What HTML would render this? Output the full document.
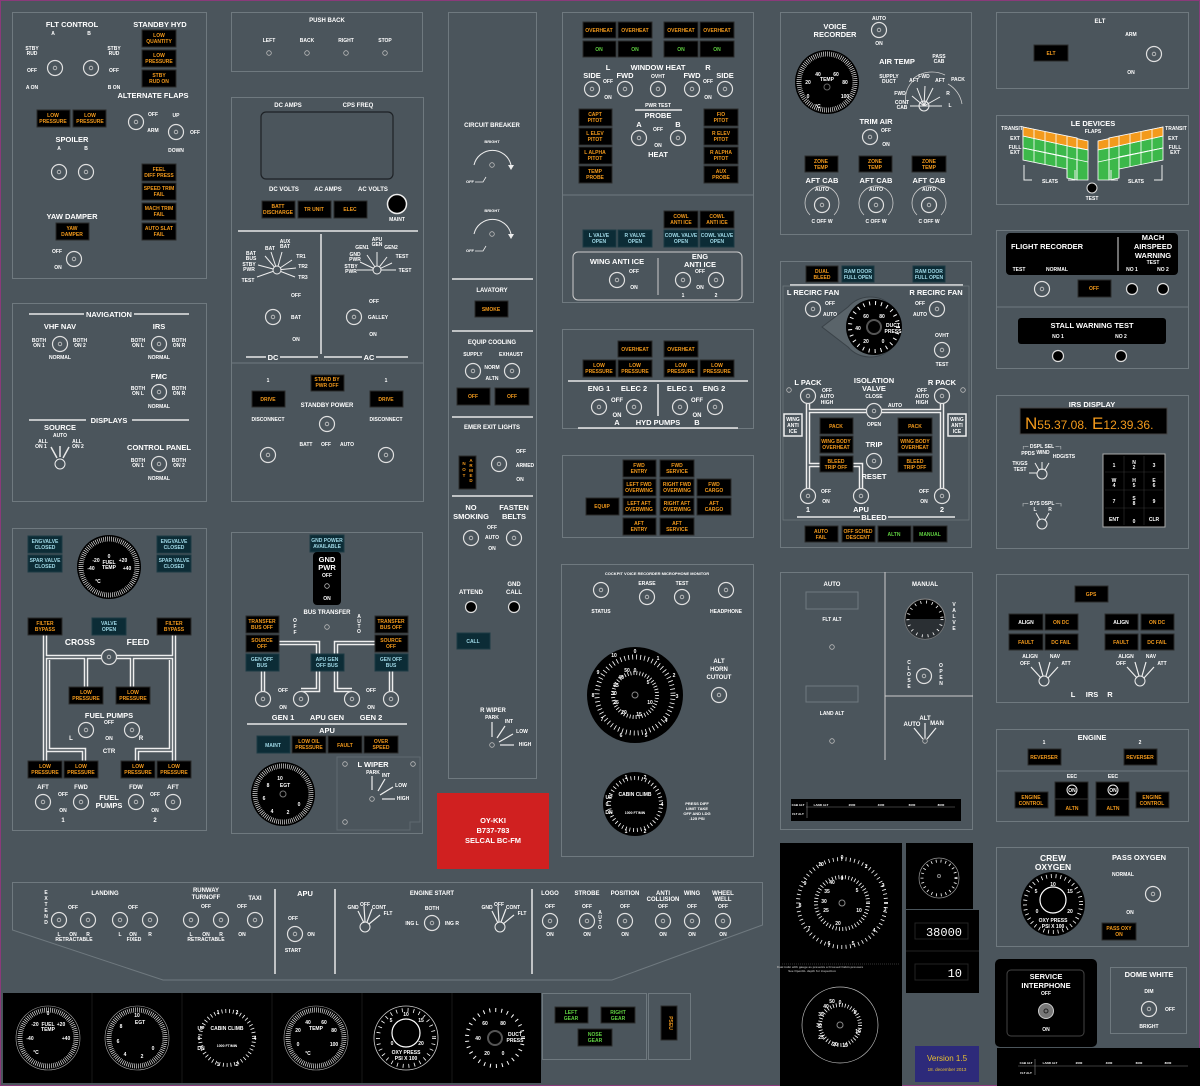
<!DOCTYPE html>
<html><head><meta charset="utf-8"><style>
html,body{margin:0;padding:0;background:#4b555c;}
svg{display:block}
text{font-family:"Liberation Sans",sans-serif;font-weight:bold;text-anchor:middle;}
.p{fill:none;stroke:#6f797f;stroke-width:1}
.a{fill:#000;stroke:#2a2a2a;stroke-width:1}
.at{fill:#0c2c36;stroke:#1c3a44;stroke-width:1}
.o{fill:#f39a1c;font-size:5px}
.g{fill:#5fd040;font-size:5px}
.c{fill:#9fd8e6;font-size:5px}
.w{fill:#fff;font-size:5px}
.s{fill:#fff;font-size:6px}
.m{fill:#fff;font-size:7.5px}
.h{fill:#fff;font-size:8.5px}
.ln{stroke:#e8e8e8;stroke-width:1.5;fill:none}
.pipe{stroke:#eee;stroke-width:4.5;fill:none}
.pipei{stroke:#4b555c;stroke-width:1.5;fill:none}
.blk{fill:#000}
.tk{fill:none;stroke:#fff}
</style></head><body>
<svg width="1200" height="1086" viewBox="0 0 1200 1086" xmlns="http://www.w3.org/2000/svg">
<defs>
<g id="k"><circle r="7.5" fill="#4b555c" stroke="#e0e0e0" stroke-width="1.2"/><circle r="1.8" fill="none" stroke="#ccc" stroke-width="0.8"/></g>
<g id="kb"><circle r="5.5" fill="#000" stroke="#ddd" stroke-width="1.2"/></g>
<g id="dt"><circle r="2.3" fill="none" stroke="#bbb" stroke-width="0.8"/></g>
<g id="rs"><circle r="5" fill="none" stroke="#eee" stroke-width="1"/></g>
</defs>
<rect x="0" y="0" width="1200" height="1086" fill="#4b555c"/>
<rect x="0.5" y="0.5" width="1199" height="1085" fill="none" stroke="#8a3a7a" stroke-width="1"/>

<!-- ===== FLT CONTROL ===== -->
<rect class="p" x="12.5" y="12.5" width="194" height="266"/>
<text class="m" x="72" y="27">FLT CONTROL</text>
<text class="m" x="160" y="27">STANDBY HYD</text>
<text class="w" x="53" y="35">A</text><text class="w" x="89" y="35">B</text>
<text class="w" x="32" y="50">STBY</text><text class="w" x="32" y="55">RUD</text>
<text class="w" x="114" y="50">STBY</text><text class="w" x="114" y="55">RUD</text>
<text class="w" x="32" y="72">OFF</text><text class="w" x="114" y="72">OFF</text>
<text class="w" x="32" y="89">A ON</text><text class="w" x="114" y="89">B ON</text>
<use href="#k" x="55" y="68"/><use href="#k" x="91" y="68"/>
<rect class="a" x="142" y="30" width="34" height="17"/><text class="o" x="159" y="37">LOW</text><text class="o" x="159" y="43">QUANTITY</text>
<rect class="a" x="142" y="50" width="34" height="17"/><text class="o" x="159" y="57">LOW</text><text class="o" x="159" y="63">PRESSURE</text>
<rect class="a" x="142" y="70" width="34" height="17"/><text class="o" x="159" y="77">STBY</text><text class="o" x="159" y="83">RUD ON</text>
<text class="m" x="153" y="98">ALTERNATE FLAPS</text>
<rect class="a" x="37" y="110" width="33" height="17"/><text class="o" x="53" y="117">LOW</text><text class="o" x="53" y="123">PRESSURE</text>
<rect class="a" x="73" y="110" width="33" height="17"/><text class="o" x="90" y="117">LOW</text><text class="o" x="90" y="123">PRESSURE</text>
<use href="#k" x="136" y="122"/><use href="#k" x="176" y="132"/>
<text class="w" x="153" y="116">OFF</text><text class="w" x="153" y="132">ARM</text>
<text class="w" x="176" y="117">UP</text><text class="w" x="195" y="134">OFF</text><text class="w" x="176" y="152">DOWN</text>
<text class="m" x="72" y="142">SPOILER</text>
<text class="w" x="59" y="150">A</text><text class="w" x="86" y="150">B</text>
<use href="#k" x="59" y="172"/><use href="#k" x="86" y="172"/>
<rect class="a" x="142" y="164" width="34" height="17"/><text class="o" x="159" y="171">FEEL</text><text class="o" x="159" y="177">DIFF PRESS</text>
<rect class="a" x="142" y="183" width="34" height="17"/><text class="o" x="159" y="190">SPEED TRIM</text><text class="o" x="159" y="196">FAIL</text>
<rect class="a" x="142" y="203" width="34" height="17"/><text class="o" x="159" y="210">MACH TRIM</text><text class="o" x="159" y="216">FAIL</text>
<rect class="a" x="142" y="223" width="34" height="17"/><text class="o" x="159" y="230">AUTO SLAT</text><text class="o" x="159" y="236">FAIL</text>
<text class="m" x="72" y="219">YAW DAMPER</text>
<rect class="a" x="56" y="223" width="33" height="17"/><text class="o" x="72" y="230">YAW</text><text class="o" x="72" y="236">DAMPER</text>
<text class="w" x="57" y="253">OFF</text><text class="w" x="58" y="269">ON</text>
<use href="#k" x="74" y="259"/>

<!-- ===== NAVIGATION ===== -->
<rect class="p" x="12.5" y="303.5" width="194" height="198"/>
<line class="ln" x1="29" y1="314" x2="84" y2="314"/><line class="ln" x1="134" y1="314" x2="189" y2="314"/>
<text class="m" x="109" y="317">NAVIGATION</text>
<text class="m" x="60" y="329">VHF NAV</text><text class="m" x="159" y="329">IRS</text>
<text class="w" x="39" y="342">BOTH</text><text class="w" x="39" y="347">ON 1</text><text class="w" x="80" y="342">BOTH</text><text class="w" x="80" y="347">ON 2</text>
<use href="#k" x="60" y="344"/><text class="w" x="60" y="359">NORMAL</text>
<text class="w" x="138" y="342">BOTH</text><text class="w" x="138" y="347">ON L</text><text class="w" x="179" y="342">BOTH</text><text class="w" x="179" y="347">ON R</text>
<use href="#k" x="159" y="344"/><text class="w" x="159" y="359">NORMAL</text>
<text class="m" x="159" y="379">FMC</text>
<text class="w" x="138" y="390">BOTH</text><text class="w" x="138" y="395">ON L</text><text class="w" x="179" y="390">BOTH</text><text class="w" x="179" y="395">ON R</text>
<use href="#k" x="159" y="392"/><text class="w" x="159" y="408">NORMAL</text>
<line class="ln" x1="29" y1="420" x2="86" y2="420"/><line class="ln" x1="132" y1="420" x2="189" y2="420"/>
<text class="m" x="109" y="423">DISPLAYS</text>
<text class="m" x="60" y="430">SOURCE</text><text class="w" x="60" y="437">AUTO</text>
<text class="w" x="43" y="443">ALL</text><text class="w" x="41" y="448">ON 1</text><text class="w" x="77" y="443">ALL</text><text class="w" x="78" y="448">ON 2</text>
<line class="ln" x1="60" y1="446" x2="60" y2="457" stroke-width="1"/><line class="ln" x1="51" y1="447" x2="57" y2="458" stroke-width="1"/><line class="ln" x1="69" y1="447" x2="63" y2="458" stroke-width="1"/>
<use href="#rs" x="60" y="464"/>
<text class="m" x="159" y="450">CONTROL PANEL</text>
<text class="w" x="138" y="462">BOTH</text><text class="w" x="138" y="467">ON 1</text><text class="w" x="179" y="462">BOTH</text><text class="w" x="179" y="467">ON 2</text>
<use href="#k" x="159" y="464"/><text class="w" x="159" y="480">NORMAL</text>

<!-- ===== FUEL ===== -->
<rect class="p" x="12.5" y="528.5" width="194" height="302"/>
<rect class="at" x="28" y="536" width="34" height="17"/><text class="c" x="45" y="543">ENGVALVE</text><text class="c" x="45" y="549">CLOSED</text>
<rect class="at" x="28" y="555" width="34" height="17"/><text class="c" x="45" y="562">SPAR VALVE</text><text class="c" x="45" y="568">CLOSED</text>
<rect class="at" x="157" y="536" width="34" height="17"/><text class="c" x="174" y="543">ENGVALVE</text><text class="c" x="174" y="549">CLOSED</text>
<rect class="at" x="157" y="555" width="34" height="17"/><text class="c" x="174" y="562">SPAR VALVE</text><text class="c" x="174" y="568">CLOSED</text>
<circle cx="109" cy="567" r="32" class="blk"/>
<circle cx="109" cy="567" r="28" class="tk" stroke-width="5" stroke-dasharray="0.6 1.4"/>
<text class="w" x="109" y="558">0</text><text class="w" x="109" y="564">FUEL</text><text class="w" x="109" y="569">TEMP</text>
<text class="w" x="96" y="562">-20</text><text class="w" x="123" y="562">+20</text><text class="w" x="91" y="570">-40</text><text class="w" x="127" y="570">+40</text><text class="w" x="98" y="583">°C</text>
<!-- pipes -->
<path class="pipe" d="M45 635 V762 M174 635 V762 M45 657 H174 M86 657 V687 M132 657 V687 M48 660 V750 H84 V762 M171 660 V750 H137 V762"/>
<path class="pipei" d="M45 635 V762 M174 635 V762 M45 657 H174 M86 657 V687 M132 657 V687 M48 660 V750 H84 V762 M171 660 V750 H137 V762"/>
<rect class="a" x="28" y="618" width="34" height="17"/><text class="o" x="45" y="625">FILTER</text><text class="o" x="45" y="631">BYPASS</text>
<rect class="at" x="92" y="618" width="34" height="17"/><text class="c" x="109" y="625">VALVE</text><text class="c" x="109" y="631">OPEN</text>
<rect class="a" x="157" y="618" width="34" height="17"/><text class="o" x="174" y="625">FILTER</text><text class="o" x="174" y="631">BYPASS</text>
<text class="h" x="80" y="645">CROSS</text><text class="h" x="138" y="645">FEED</text>
<use href="#k" x="109" y="657"/>
<rect class="a" x="69" y="687" width="34" height="17"/><text class="o" x="86" y="694">LOW</text><text class="o" x="86" y="700">PRESSURE</text>
<rect class="a" x="116" y="687" width="34" height="17"/><text class="o" x="133" y="694">LOW</text><text class="o" x="133" y="700">PRESSURE</text>
<text class="m" x="109" y="718">FUEL PUMPS</text><text class="w" x="109" y="724">OFF</text>
<use href="#k" x="86" y="730"/><use href="#k" x="132" y="730"/>
<text class="s" x="71" y="740">L</text><text class="s" x="141" y="740">R</text><text class="w" x="109" y="740">ON</text><text class="s" x="109" y="753">CTR</text>
<rect class="a" x="28" y="761" width="34" height="17"/><text class="o" x="45" y="768">LOW</text><text class="o" x="45" y="774">PRESSURE</text>
<rect class="a" x="64" y="761" width="34" height="17"/><text class="o" x="81" y="768">LOW</text><text class="o" x="81" y="774">PRESSURE</text>
<rect class="a" x="121" y="761" width="34" height="17"/><text class="o" x="138" y="768">LOW</text><text class="o" x="138" y="774">PRESSURE</text>
<rect class="a" x="157" y="761" width="34" height="17"/><text class="o" x="174" y="768">LOW</text><text class="o" x="174" y="774">PRESSURE</text>
<text class="s" x="43" y="789">AFT</text><text class="s" x="81" y="789">FWD</text><text class="s" x="136" y="789">FDW</text><text class="s" x="173" y="789">AFT</text>
<use href="#k" x="43" y="802"/><use href="#k" x="81" y="802"/><use href="#k" x="136" y="802"/><use href="#k" x="173" y="802"/>
<text class="w" x="63" y="796">OFF</text><text class="w" x="63" y="812">ON</text><text class="w" x="155" y="796">OFF</text><text class="w" x="155" y="812">ON</text>
<text class="s" x="63" y="822">1</text><text class="s" x="155" y="822">2</text>
<text class="m" x="109" y="800">FUEL</text><text class="m" x="109" y="808">PUMPS</text>

<!-- ===== PUSH BACK ===== -->
<rect class="p" x="231.5" y="12.5" width="191" height="59"/>
<text class="s" x="327" y="22">PUSH BACK</text>
<text class="w" x="269" y="42">LEFT</text><text class="w" x="307" y="42">BACK</text><text class="w" x="346" y="42">RIGHT</text><text class="w" x="385" y="42">STOP</text>
<use href="#dt" x="269" y="53"/><use href="#dt" x="307" y="53"/><use href="#dt" x="346" y="53"/><use href="#dt" x="385" y="53"/>

<!-- ===== DC / AC ===== -->
<rect class="p" x="231.5" y="97.5" width="192" height="404"/>
<line x1="231" y1="363" x2="423" y2="363" stroke="#6f797f"/>
<text class="s" x="288" y="107">DC AMPS</text><text class="s" x="358" y="107">CPS FREQ</text>
<rect x="261" y="112" width="132" height="67" rx="5" fill="#4b555c" stroke="#1e2226" stroke-width="1.2"/>
<text class="s" x="284" y="191">DC VOLTS</text><text class="s" x="328" y="191">AC AMPS</text><text class="s" x="373" y="191">AC VOLTS</text>
<rect class="a" x="262" y="201" width="33" height="17"/><text class="o" x="278" y="208">BATT</text><text class="o" x="278" y="214">DISCHARGE</text>
<rect class="a" x="298" y="201" width="33" height="17"/><text class="o" x="314" y="211">TR UNIT</text>
<rect class="a" x="334" y="201" width="33" height="17"/><text class="o" x="350" y="211">ELEC</text>
<circle cx="397" cy="204" r="9.5" fill="#000" stroke="#eee" stroke-width="1.5"/><text class="w" x="397" y="221">MAINT</text>
<line class="ln" x1="238" y1="231" x2="418" y2="231"/>
<line class="ln" x1="321" y1="234" x2="321" y2="354"/>
<g stroke="#eee" stroke-width="1">
<line x1="277" y1="270" x2="257" y2="277"/><line x1="277" y1="270" x2="258" y2="265"/><line x1="277" y1="270" x2="265" y2="256"/><line x1="277" y1="270" x2="271" y2="252"/><line x1="277" y1="270" x2="282" y2="252"/><line x1="277" y1="270" x2="292" y2="260"/><line x1="277" y1="270" x2="296" y2="268"/><line x1="277" y1="270" x2="295" y2="277"/>
<line x1="377" y1="270" x2="357" y2="270"/><line x1="377" y1="270" x2="360" y2="262"/><line x1="377" y1="270" x2="367" y2="255"/><line x1="377" y1="270" x2="377" y2="252"/><line x1="377" y1="270" x2="387" y2="257"/><line x1="377" y1="270" x2="392" y2="263"/><line x1="377" y1="270" x2="396" y2="270"/>
</g>
<circle cx="277" cy="270" r="4" fill="#4b555c" stroke="#eee"/><circle cx="377" cy="270" r="4" fill="#4b555c" stroke="#eee"/>
<text class="w" x="251" y="255">BAT</text><text class="w" x="251" y="260">BUS</text><text class="w" x="270" y="250">BAT</text><text class="w" x="285" y="243">AUX</text><text class="w" x="285" y="248">BAT</text><text class="w" x="301" y="258">TR1</text><text class="w" x="303" y="268">TR2</text><text class="w" x="303" y="279">TR3</text><text class="w" x="249" y="266">STBY</text><text class="w" x="249" y="271">PWR</text><text class="w" x="248" y="282">TEST</text>
<text class="w" x="355" y="256">GND</text><text class="w" x="355" y="261">PWR</text><text class="w" x="362" y="249">GEN1</text><text class="w" x="377" y="241">APU</text><text class="w" x="377" y="246">GEN</text><text class="w" x="391" y="249">GEN2</text><text class="w" x="402" y="258">TEST</text><text class="w" x="405" y="272">TEST</text><text class="w" x="351" y="268">STBY</text><text class="w" x="351" y="273">PWR</text>
<text class="w" x="296" y="297">OFF</text><use href="#k" x="273" y="317"/><text class="w" x="296" y="319">BAT</text><text class="w" x="296" y="341">ON</text>
<text class="w" x="374" y="303">OFF</text><use href="#k" x="354" y="317"/><text class="w" x="378" y="319">GALLEY</text><text class="w" x="373" y="336">ON</text>
<line class="ln" x1="246" y1="357" x2="266" y2="357" stroke-width="1"/><line class="ln" x1="280" y1="357" x2="318" y2="357" stroke-width="1"/>
<line class="ln" x1="324" y1="357" x2="362" y2="357" stroke-width="1"/><line class="ln" x1="376" y1="357" x2="408" y2="357" stroke-width="1"/>
<text class="m" x="273" y="360">DC</text><text class="m" x="369" y="360">AC</text>
<text class="w" x="268" y="382">1</text><text class="w" x="386" y="382">1</text>
<rect class="a" x="311" y="375" width="33" height="16"/><text class="o" x="327" y="381">STAND BY</text><text class="o" x="327" y="387">PWR OFF</text>
<rect class="a" x="252" y="391" width="33" height="16"/><text class="o" x="268" y="401">DRIVE</text>
<rect class="a" x="370" y="391" width="33" height="16"/><text class="o" x="386" y="401">DRIVE</text>
<text class="s" x="327" y="407">STANDBY POWER</text>
<text class="w" x="268" y="421">DISCONNECT</text><text class="w" x="386" y="421">DISCONNECT</text>
<use href="#k" x="327" y="424"/>
<text class="w" x="306" y="446">BATT</text><text class="w" x="326" y="446">OFF</text><text class="w" x="347" y="446">AUTO</text>
<use href="#k" x="268" y="455"/><use href="#k" x="386" y="455"/>

<!-- ===== GND PWR ===== -->
<rect class="p" x="231.5" y="532.5" width="191" height="301"/>
<rect class="at" x="310" y="535" width="34" height="17"/><text class="c" x="327" y="542">GND POWER</text><text class="c" x="327" y="548">AVAILABLE</text>
<rect x="313" y="552" width="28" height="53" rx="4" fill="#000"/>
<text class="m" x="327" y="562">GND</text><text class="m" x="327" y="570">PWR</text><text class="w" x="327" y="577">OFF</text><use href="#dt" x="327" y="586"/><text class="w" x="327" y="600">ON</text>
<text class="s" x="327" y="614">BUS TRANSFER</text>
<text class="w" x="295" y="622">O</text><text class="w" x="295" y="628">F</text><text class="w" x="295" y="634">F</text>
<text class="w" x="359" y="618">A</text><text class="w" x="359" y="623">U</text><text class="w" x="359" y="628">T</text><text class="w" x="359" y="633">O</text>
<use href="#dt" x="327" y="627"/>
<path class="pipe" d="M263 671 V699 M391 671 V699 M279 643 H318 V690 H301 M375 643 H336 V690 H352"/>
<path class="pipei" d="M263 671 V699 M391 671 V699 M279 643 H318 V690 H301 M375 643 H336 V690 H352"/>
<rect class="a" x="246" y="616" width="33" height="17"/><text class="o" x="262" y="623">TRANSFER</text><text class="o" x="262" y="629">BUS OFF</text>
<rect class="a" x="246" y="635" width="33" height="17"/><text class="o" x="262" y="642">SOURCE</text><text class="o" x="262" y="648">OFF</text>
<rect class="at" x="246" y="654" width="33" height="17"/><text class="c" x="262" y="661">GEN OFF</text><text class="c" x="262" y="667">BUS</text>
<rect class="a" x="375" y="616" width="33" height="17"/><text class="o" x="391" y="623">TRANSFER</text><text class="o" x="391" y="629">BUS OFF</text>
<rect class="a" x="375" y="635" width="33" height="17"/><text class="o" x="391" y="642">SOURCE</text><text class="o" x="391" y="648">OFF</text>
<rect class="at" x="375" y="654" width="33" height="17"/><text class="c" x="391" y="661">GEN OFF</text><text class="c" x="391" y="667">BUS</text>
<rect class="at" x="311" y="654" width="33" height="17"/><text class="c" x="327" y="661">APU GEN</text><text class="c" x="327" y="667">OFF BUS</text>
<use href="#k" x="263" y="699"/><use href="#k" x="301" y="699"/><use href="#k" x="352" y="699"/><use href="#k" x="391" y="699"/>
<text class="w" x="283" y="692">OFF</text><text class="w" x="283" y="709">ON</text><text class="w" x="371" y="692">OFF</text><text class="w" x="371" y="709">ON</text>
<text class="m" x="283" y="720">GEN 1</text><text class="m" x="327" y="720">APU GEN</text><text class="m" x="371" y="720">GEN 2</text>
<line class="ln" x1="247" y1="724" x2="407" y2="724"/>
<text class="m" x="327" y="733">APU</text>
<rect class="at" x="257" y="736" width="33" height="17"/><text class="c" x="273" y="747">MAINT</text>
<rect class="a" x="292" y="736" width="34" height="17"/><text class="o" x="309" y="743">LOW OIL</text><text class="o" x="309" y="749">PRESSURE</text>
<rect class="a" x="328" y="736" width="34" height="17"/><text class="o" x="345" y="747">FAULT</text>
<rect class="a" x="364" y="736" width="34" height="17"/><text class="o" x="381" y="743">OVER</text><text class="o" x="381" y="749">SPEED</text>
<circle cx="283" cy="794" r="32" class="blk"/>
<circle cx="283" cy="794" r="28" class="tk" stroke-width="5" stroke-dasharray="0.6 1.4"/>
<text class="w" x="280" y="780">10</text><text class="w" x="285" y="787">EGT</text><text class="w" x="268" y="787">8</text><text class="w" x="264" y="800">6</text><text class="w" x="272" y="813">4</text><text class="w" x="288" y="814">2</text><text class="w" x="299" y="806">0</text>
<circle cx="283" cy="794" r="3" fill="none" stroke="#777"/>
<path d="M337 757 H420 V822 H410 V830 H337 Z" fill="none" stroke="#5f696f"/>
<text class="m" x="373" y="767">L WIPER</text>
<text class="w" x="373" y="774">PARK</text><text class="w" x="386" y="777">INT</text><text class="w" x="401" y="787">LOW</text><text class="w" x="403" y="800">HIGH</text>
<g stroke="#eee" stroke-width="1.2"><line x1="372" y1="776" x2="372" y2="790"/><line x1="378" y1="791" x2="385" y2="779"/><line x1="380" y1="795" x2="393" y2="787"/><line x1="382" y1="799" x2="395" y2="799"/></g>
<use href="#dt" x="372" y="799"/><use href="#dt" x="345" y="764"/><use href="#dt" x="413" y="764"/><use href="#dt" x="345" y="822"/>

<!-- ===== CIRCUIT BREAKER COLUMN ===== -->
<rect class="p" x="448.5" y="12.5" width="88" height="766"/>
<text class="s" x="492" y="127">CIRCUIT BREAKER</text>
<path d="M474 165 A19 19 0 0 1 511 165" fill="none" stroke="#eee"/><path d="M508 165 l3 5 l3 -5z" fill="#eee"/>
<text class="w" x="492" y="143" style="font-size:4px">BRIGHT</text><use href="#dt" x="492" y="165"/>
<text class="w" x="470" y="183" style="font-size:4px">OFF</text><path d="M475 182 H483 L486 177" fill="none" stroke="#eee" stroke-width="0.8"/>
<path d="M474 234 A19 19 0 0 1 511 234" fill="none" stroke="#eee"/><path d="M508 234 l3 5 l3 -5z" fill="#eee"/>
<text class="w" x="492" y="212" style="font-size:4px">BRIGHT</text><use href="#dt" x="492" y="234"/>
<text class="w" x="470" y="252" style="font-size:4px">OFF</text><path d="M475 251 H483 L486 246" fill="none" stroke="#eee" stroke-width="0.8"/>
<line class="ln" x1="452" y1="279" x2="533" y2="279"/>
<text class="s" x="492" y="292">LAVATORY</text>
<rect class="a" x="475" y="301" width="33" height="16"/><text class="o" x="491" y="311">SMOKE</text>
<line class="ln" x1="452" y1="331" x2="533" y2="331"/>
<text class="s" x="492" y="344">EQUIP COOLING</text>
<text class="w" x="473" y="356">SUPPLY</text><text class="w" x="511" y="356">EXHAUST</text>
<use href="#k" x="473" y="371"/><use href="#k" x="512" y="371"/>
<text class="w" x="492" y="369">NORM</text><text class="w" x="492" y="380">ALTN</text>
<rect class="a" x="457" y="388" width="33" height="17"/><text class="o" x="473" y="398">OFF</text>
<rect class="a" x="495" y="388" width="34" height="17"/><text class="o" x="512" y="398">OFF</text>
<line class="ln" x1="452" y1="417" x2="533" y2="417"/>
<text class="s" x="492" y="429">EMER EXIT LIGHTS</text>
<rect class="a" x="459" y="456" width="17" height="33"/>
<text class="o" x="464" y="465" style="font-size:4.5px">N</text><text class="o" x="464" y="471" style="font-size:4.5px">O</text><text class="o" x="464" y="477" style="font-size:4.5px">T</text>
<text class="o" x="471" y="462" style="font-size:4.5px">A</text><text class="o" x="471" y="467" style="font-size:4.5px">R</text><text class="o" x="471" y="472" style="font-size:4.5px">M</text><text class="o" x="471" y="477" style="font-size:4.5px">E</text><text class="o" x="471" y="482" style="font-size:4.5px">D</text>
<use href="#k" x="499" y="464"/>
<text class="w" x="521" y="453">OFF</text><text class="w" x="525" y="467">ARMED</text><text class="w" x="520" y="481">ON</text>
<line class="ln" x1="452" y1="496" x2="533" y2="496"/>
<text class="m" x="471" y="510">NO</text><text class="m" x="471" y="519">SMOKING</text>
<text class="m" x="514" y="510">FASTEN</text><text class="m" x="514" y="519">BELTS</text>
<text class="w" x="492" y="529">OFF</text><text class="w" x="492" y="539">AUTO</text><text class="w" x="492" y="550">ON</text>
<use href="#k" x="471" y="538"/><use href="#k" x="514" y="538"/>
<text class="s" x="471" y="594">ATTEND</text><text class="s" x="514" y="586">GND</text><text class="s" x="514" y="594">CALL</text>
<use href="#kb" x="471" y="607"/><use href="#kb" x="514" y="607"/>
<rect class="at" x="457" y="633" width="33" height="16"/><text class="c" x="473" y="643">CALL</text>
<text class="s" x="493" y="712">R WIPER</text>
<text class="w" x="492" y="719">PARK</text><text class="w" x="509" y="723">INT</text><text class="w" x="522" y="733">LOW</text><text class="w" x="525" y="746">HIGH</text>
<g stroke="#eee" stroke-width="1.2"><line x1="492" y1="722" x2="492" y2="737"/><line x1="497" y1="738" x2="505" y2="726"/><line x1="499" y1="742" x2="513" y2="734"/><line x1="500" y1="745" x2="514" y2="745"/></g>
<use href="#dt" x="492" y="745"/>

<!-- ===== RED BOX ===== -->
<rect x="437" y="793" width="112" height="76" fill="#d02020"/>
<text class="m" x="493" y="823" style="fill:#fff">OY-KKI</text>
<text class="m" x="493" y="833">B737-783</text>
<text class="m" x="493" y="843">SELCAL BC-FM</text>

<!-- ===== WINDOW HEAT ===== -->
<rect class="p" x="562.5" y="12.5" width="191" height="290"/>
<line x1="562" y1="195" x2="754" y2="195" stroke="#6f797f"/>
<g>
<rect class="a" x="583" y="22" width="33" height="16"/><text class="o" x="599" y="32">OVERHEAT</text>
<rect class="a" x="618" y="22" width="34" height="16"/><text class="o" x="635" y="32">OVERHEAT</text>
<rect class="a" x="664" y="22" width="34" height="16"/><text class="o" x="681" y="32">OVERHEAT</text>
<rect class="a" x="700" y="22" width="34" height="16"/><text class="o" x="717" y="32">OVERHEAT</text>
<rect class="a" x="583" y="41" width="33" height="16"/><text class="g" x="599" y="51">ON</text>
<rect class="a" x="618" y="41" width="34" height="16"/><text class="g" x="635" y="51">ON</text>
<rect class="a" x="664" y="41" width="34" height="16"/><text class="g" x="681" y="51">ON</text>
<rect class="a" x="700" y="41" width="34" height="16"/><text class="g" x="717" y="51">ON</text>
</g>
<text class="m" x="608" y="70">L</text><text class="m" x="658" y="70">WINDOW HEAT</text><text class="m" x="708" y="70">R</text>
<text class="m" x="592" y="78">SIDE</text><text class="m" x="625" y="78">FWD</text><text class="w" x="658" y="78">OVHT</text><text class="m" x="692" y="78">FWD</text><text class="m" x="725" y="78">SIDE</text>
<text class="w" x="608" y="83">OFF</text><text class="w" x="608" y="99">ON</text><text class="w" x="708" y="83">OFF</text><text class="w" x="708" y="99">ON</text>
<use href="#k" x="592" y="89"/><use href="#k" x="625" y="89"/><use href="#k" x="658" y="89"/><use href="#k" x="692" y="89"/><use href="#k" x="725" y="89"/>
<text class="w" x="658" y="107">PWR TEST</text><line class="ln" x1="635" y1="110" x2="682" y2="110" stroke-width="1"/>
<text class="m" x="658" y="118">PROBE</text>
<text class="m" x="639" y="127">A</text><text class="m" x="678" y="127">B</text>
<text class="w" x="658" y="131">OFF</text><text class="w" x="658" y="147">ON</text><text class="m" x="658" y="157">HEAT</text>
<use href="#k" x="639" y="138"/><use href="#k" x="678" y="138"/>
<rect class="a" x="579" y="109" width="33" height="17"/><text class="o" x="595" y="116">CAPT</text><text class="o" x="595" y="122">PITOT</text>
<rect class="a" x="579" y="128" width="33" height="17"/><text class="o" x="595" y="135">L ELEV</text><text class="o" x="595" y="141">PITOT</text>
<rect class="a" x="579" y="147" width="33" height="17"/><text class="o" x="595" y="154">L ALPHA</text><text class="o" x="595" y="160">PITOT</text>
<rect class="a" x="579" y="166" width="33" height="17"/><text class="o" x="595" y="173">TEMP</text><text class="o" x="595" y="179">PROBE</text>
<rect class="a" x="704" y="109" width="34" height="17"/><text class="o" x="721" y="116">F/O</text><text class="o" x="721" y="122">PITOT</text>
<rect class="a" x="704" y="128" width="34" height="17"/><text class="o" x="721" y="135">R ELEV</text><text class="o" x="721" y="141">PITOT</text>
<rect class="a" x="704" y="147" width="34" height="17"/><text class="o" x="721" y="154">R ALPHA</text><text class="o" x="721" y="160">PITOT</text>
<rect class="a" x="704" y="166" width="34" height="17"/><text class="o" x="721" y="173">AUX</text><text class="o" x="721" y="179">PROBE</text>
<!-- anti ice -->
<rect class="a" x="664" y="211" width="34" height="17"/><text class="o" x="681" y="218">COWL</text><text class="o" x="681" y="224">ANTI ICE</text>
<rect class="a" x="700" y="211" width="34" height="17"/><text class="o" x="717" y="218">COWL</text><text class="o" x="717" y="224">ANTI ICE</text>
<rect class="at" x="583" y="230" width="33" height="17"/><text class="c" x="599" y="237">L VALVE</text><text class="c" x="599" y="243">OPEN</text>
<rect class="at" x="618" y="230" width="34" height="17"/><text class="c" x="635" y="237">R VALVE</text><text class="c" x="635" y="243">OPEN</text>
<rect class="at" x="664" y="230" width="34" height="17"/><text class="c" x="681" y="237">COWL VALVE</text><text class="c" x="681" y="243">OPEN</text>
<rect class="at" x="700" y="230" width="34" height="17"/><text class="c" x="717" y="237">COWL VALVE</text><text class="c" x="717" y="243">OPEN</text>
<rect x="573" y="252" width="169" height="48" rx="5" fill="none" stroke="#ccc" stroke-width="1"/>
<line x1="658" y1="258" x2="658" y2="295" stroke="#ccc"/>
<text class="m" x="617" y="264">WING  ANTI  ICE</text>
<text class="m" x="700" y="259">ENG</text><text class="m" x="700" y="267">ANTI  ICE</text>
<use href="#k" x="617" y="280"/><use href="#k" x="683" y="280"/><use href="#k" x="716" y="280"/>
<text class="w" x="634" y="273">OFF</text><text class="w" x="634" y="289">ON</text><text class="w" x="700" y="273">OFF</text><text class="w" x="700" y="289">ON</text>
<text class="w" x="683" y="297">1</text><text class="w" x="716" y="297">2</text>

<!-- ===== HYD PUMPS ===== -->
<rect class="p" x="562.5" y="329.5" width="191" height="99"/>
<rect class="a" x="618" y="341" width="34" height="16"/><text class="o" x="635" y="351">OVERHEAT</text>
<rect class="a" x="664" y="341" width="34" height="16"/><text class="o" x="681" y="351">OVERHEAT</text>
<rect class="a" x="583" y="360" width="33" height="17"/><text class="o" x="599" y="367">LOW</text><text class="o" x="599" y="373">PRESSURE</text>
<rect class="a" x="618" y="360" width="34" height="17"/><text class="o" x="635" y="367">LOW</text><text class="o" x="635" y="373">PRESSURE</text>
<rect class="a" x="664" y="360" width="34" height="17"/><text class="o" x="681" y="367">LOW</text><text class="o" x="681" y="373">PRESSURE</text>
<rect class="a" x="700" y="360" width="34" height="17"/><text class="o" x="717" y="367">LOW</text><text class="o" x="717" y="373">PRESSURE</text>
<line class="ln" x1="568" y1="381" x2="748" y2="381"/>
<line class="ln" x1="658" y1="384" x2="658" y2="416" stroke-width="1"/>
<text class="m" x="599" y="391">ENG 1</text><text class="m" x="634" y="391">ELEC 2</text><text class="m" x="680" y="391">ELEC 1</text><text class="m" x="714" y="391">ENG 2</text>
<use href="#k" x="599" y="407"/><use href="#k" x="634" y="407"/><use href="#k" x="680" y="407"/><use href="#k" x="715" y="407"/>
<text class="s" x="617" y="402">OFF</text><text class="s" x="617" y="417">ON</text><text class="s" x="697" y="402">OFF</text><text class="s" x="697" y="417">ON</text>
<text class="m" x="617" y="425">A</text><text class="m" x="658" y="425">HYD PUMPS</text><text class="m" x="697" y="425">B</text>
<line class="ln" x1="578" y1="428" x2="738" y2="428" stroke-width="1"/>

<!-- ===== DOORS ===== -->
<rect class="p" x="562.5" y="455.5" width="191" height="82"/>
<rect class="a" x="623" y="460" width="33" height="17"/><text class="o" x="639" y="467">FWD</text><text class="o" x="639" y="473">ENTRY</text>
<rect class="a" x="660" y="460" width="34" height="17"/><text class="o" x="677" y="467">FWD</text><text class="o" x="677" y="473">SERVICE</text>
<rect class="a" x="623" y="479" width="33" height="17"/><text class="o" x="639" y="486">LEFT FWD</text><text class="o" x="639" y="492">OVERWING</text>
<rect class="a" x="660" y="479" width="34" height="17"/><text class="o" x="677" y="486">RIGHT FWD</text><text class="o" x="677" y="492">OVERWING</text>
<rect class="a" x="697" y="479" width="34" height="17"/><text class="o" x="714" y="486">FWD</text><text class="o" x="714" y="492">CARGO</text>
<rect class="a" x="586" y="498" width="33" height="17"/><text class="o" x="602" y="508">EQUIP</text>
<rect class="a" x="623" y="498" width="33" height="17"/><text class="o" x="639" y="505">LEFT AFT</text><text class="o" x="639" y="511">OVERWING</text>
<rect class="a" x="660" y="498" width="34" height="17"/><text class="o" x="677" y="505">RIGHT AFT</text><text class="o" x="677" y="511">OVERWING</text>
<rect class="a" x="697" y="498" width="34" height="17"/><text class="o" x="714" y="505">AFT</text><text class="o" x="714" y="511">CARGO</text>
<rect class="a" x="623" y="518" width="33" height="17"/><text class="o" x="639" y="525">AFT</text><text class="o" x="639" y="531">ENTRY</text>
<rect class="a" x="660" y="518" width="34" height="17"/><text class="o" x="677" y="525">AFT</text><text class="o" x="677" y="531">SERVICE</text>

<!-- ===== CVR ===== -->
<rect class="p" x="561.5" y="564.5" width="192" height="292"/>
<text class="w" x="657" y="575" style="font-size:4px">COCKPIT VOICE RECORDER MICROPHONE MONITOR</text>
<use href="#k" x="601" y="590"/><use href="#k" x="647" y="597"/><use href="#k" x="682" y="597"/><use href="#k" x="726" y="590"/>
<text class="w" x="647" y="585">ERASE</text><text class="w" x="682" y="585">TEST</text>
<text class="w" x="601" y="613">STATUS</text><text class="w" x="726" y="613">HEADPHONE</text>
<circle cx="635" cy="695" r="48" class="blk"/>
<circle cx="635" cy="695" r="38" class="tk" stroke-width="5" stroke-dasharray="0.8 3.2"/>
<circle cx="635" cy="695" r="22" class="tk" stroke-width="4" stroke-dasharray="0.8 2.2"/>
<circle cx="635" cy="695" r="3" fill="none" stroke="#888"/>
<text class="w" x="635" y="653">0</text><text class="w" x="658" y="660">1</text><text class="w" x="674" y="677">2</text><text class="w" x="677" y="698">3</text><text class="w" x="666" y="722">4</text><text class="w" x="646" y="737">5</text><text class="w" x="621" y="737">6</text><text class="w" x="602" y="721">7</text><text class="w" x="593" y="697">8</text><text class="w" x="598" y="674">9</text><text class="w" x="614" y="657">10</text>
<text class="w" x="635" y="672">0</text><text class="w" x="648" y="684">5</text><text class="w" x="650" y="704">10</text><text class="w" x="639" y="716">15</text><text class="w" x="624" y="714">20</text><text class="w" x="616" y="704">25</text><text class="w" x="614" y="695">30</text><text class="w" x="616" y="687">35</text><text class="w" x="621" y="679">40</text><text class="w" x="627" y="672">50</text>
<text class="s" x="719" y="663">ALT</text><text class="s" x="719" y="671">HORN</text><text class="s" x="719" y="679">CUTOUT</text>
<use href="#k" x="719" y="695"/>
<circle cx="635" cy="804" r="32" class="blk"/>
<circle cx="635" cy="804" r="26" class="tk" stroke-width="4" stroke-dasharray="0.8 3"/>
<text class="w" x="635" y="796">CABIN CLIMB</text><text class="w" x="635" y="814" style="font-size:3.5px">1000 FT/MIN</text>
<text class="w" x="609" y="799">UP</text><text class="w" x="607" y="806">0</text><text class="w" x="609" y="814">DN</text><text class="w" x="662" y="806">4</text><text class="w" x="626" y="779">1</text><text class="w" x="645" y="779">2</text><text class="w" x="626" y="833">1</text><text class="w" x="645" y="833">2</text>
<text class="w" x="697" y="805" style="font-size:4px">PRESS DIFF</text><text class="w" x="697" y="810" style="font-size:4px">LIMIT TAKE</text><text class="w" x="697" y="815" style="font-size:4px">OFF AND LDG</text><text class="w" x="697" y="820" style="font-size:4px">.125 PSI</text>

<!-- ===== VOICE RECORDER / AIR TEMP ===== -->
<rect class="p" x="780.5" y="12.5" width="191" height="222"/>
<text class="m" x="835" y="29">VOICE</text><text class="m" x="835" y="37">RECORDER</text>
<text class="w" x="879" y="20">AUTO</text><use href="#k" x="879" y="30"/><text class="w" x="879" y="45">ON</text>
<circle cx="827" cy="82" r="32" class="blk"/>
<circle cx="827" cy="82" r="28" class="tk" stroke-width="5" stroke-dasharray="0.6 1.4"/>
<text class="w" x="818" y="76">40</text><text class="w" x="836" y="76">60</text><text class="w" x="808" y="84">20</text><text class="w" x="845" y="84">80</text><text class="w" x="827" y="81">TEMP</text><text class="w" x="808" y="98">0</text><text class="w" x="845" y="98">100</text><text class="w" x="818" y="108">°C</text>
<circle cx="827" cy="87" r="3" fill="none" stroke="#666"/>
<text class="m" x="897" y="64">AIR TEMP</text>
<text class="w" x="939" y="58">PASS</text><text class="w" x="939" y="63">CAB</text><text class="w" x="958" y="81">PACK</text>
<text class="w" x="889" y="78">SUPPLY</text><text class="w" x="889" y="83">DUCT</text>
<text class="w" x="914" y="82">AFT</text><text class="w" x="924" y="78">FWD</text><text class="w" x="940" y="82">AFT</text><text class="w" x="900" y="95">FWD</text><text class="w" x="948" y="95">R</text><text class="w" x="950" y="107">L</text><text class="w" x="902" y="104">CONT</text><text class="w" x="902" y="109">CAB</text>
<g stroke="#eee" stroke-width="1"><line x1="924" y1="106" x2="910" y2="106"/><line x1="924" y1="106" x2="912" y2="96"/><line x1="924" y1="106" x2="917" y2="88"/><line x1="924" y1="106" x2="925" y2="86"/><line x1="924" y1="106" x2="933" y2="88"/><line x1="924" y1="106" x2="940" y2="97"/><line x1="924" y1="106" x2="942" y2="106"/></g>
<path d="M906 104 A25 25 0 0 1 914 80 M914 78 A30 30 0 0 1 945 75 M948 84 A28 28 0 0 1 962 104" fill="none" stroke="#ccc" stroke-width="0.8"/>
<use href="#rs" x="924" y="106"/>
<text class="m" x="876" y="124">TRIM AIR</text><use href="#k" x="870" y="137"/><text class="w" x="886" y="132">OFF</text><text class="w" x="886" y="146">ON</text>
<rect class="a" x="805" y="156" width="33" height="16"/><text class="o" x="821" y="163">ZONE</text><text class="o" x="821" y="169">TEMP</text>
<rect class="a" x="859" y="156" width="33" height="16"/><text class="o" x="875" y="163">ZONE</text><text class="o" x="875" y="169">TEMP</text>
<rect class="a" x="912" y="156" width="34" height="16"/><text class="o" x="929" y="163">ZONE</text><text class="o" x="929" y="169">TEMP</text>
<g>
<text class="m" x="822" y="183">AFT CAB</text><text class="m" x="876" y="183">AFT CAB</text><text class="m" x="929" y="183">AFT CAB</text>
<text class="w" x="822" y="191">AUTO</text><text class="w" x="876" y="191">AUTO</text><text class="w" x="929" y="191">AUTO</text>
<use href="#k" x="822" y="205"/><use href="#k" x="876" y="205"/><use href="#k" x="929" y="205"/>
<path d="M810 215 A17 17 0 1 1 834 215 M864 215 A17 17 0 1 1 888 215 M917 215 A17 17 0 1 1 941 215" fill="none" stroke="#ccc" stroke-width="0.8"/>
<text class="w" x="822" y="223">C  OFF  W</text><text class="w" x="876" y="223">C  OFF  W</text><text class="w" x="929" y="223">C  OFF  W</text>
</g>

<!-- ===== BLEED ===== -->
<rect class="p" x="780.5" y="261.5" width="191" height="286"/>
<rect class="a" x="806" y="266" width="32" height="16"/><text class="o" x="822" y="273">DUAL</text><text class="o" x="822" y="279">BLEED</text>
<rect class="at" x="842" y="266" width="32" height="16"/><text class="c" x="858" y="273">RAM DOOR</text><text class="c" x="858" y="279">FULL OPEN</text>
<rect class="at" x="913" y="266" width="32" height="16"/><text class="c" x="929" y="273">RAM DOOR</text><text class="c" x="929" y="279">FULL OPEN</text>
<line class="ln" x1="790" y1="285" x2="963" y2="285"/>
<rect x="783" y="286" width="186" height="234" fill="none" stroke="#6f797f" stroke-width="0.7"/>
<text class="m" x="813" y="295">L RECIRC FAN</text><text class="m" x="936" y="295">R RECIRC FAN</text>
<use href="#k" x="813" y="309"/><use href="#k" x="937" y="309"/>
<text class="w" x="830" y="305">OFF</text><text class="w" x="830" y="316">AUTO</text><text class="w" x="920" y="305">OFF</text><text class="w" x="920" y="316">AUTO</text>
<path d="M822 327 L848 307 A30 30 0 1 1 848 347 Z" fill="#5a646a" stroke="#3a4248"/>
<circle cx="874" cy="327" r="28" class="blk"/>
<circle cx="874" cy="327" r="24" class="tk" stroke-width="4" stroke-dasharray="1 5"/>
<circle cx="874" cy="327" r="7" fill="none" stroke="#555" stroke-width="2"/>
<text class="w" x="866" y="318">60</text><text class="w" x="882" y="318">80</text><text class="w" x="858" y="330">40</text><text class="w" x="866" y="343">20</text><text class="w" x="883" y="343">0</text><text class="w" x="893" y="327">DUCT</text><text class="w" x="893" y="333">PRESS</text>
<text class="w" x="942" y="337">OVHT</text><use href="#k" x="942" y="350"/><text class="w" x="942" y="366">TEST</text>
<text class="m" x="808" y="385">L PACK</text><text class="m" x="874" y="383">ISOLATION</text><text class="m" x="874" y="391">VALVE</text><text class="m" x="942" y="385">R PACK</text>
<use href="#dt" x="789" y="390"/><use href="#dt" x="963" y="390"/>
<path class="pipe" d="M808 396 V496 M942 396 V496 M808 411 H942 M808 465 H861 V496"/>
<path class="pipei" d="M808 396 V496 M942 396 V496 M808 411 H942 M808 465 H861 V496"/>
<use href="#k" x="808" y="396"/><use href="#k" x="942" y="396"/><use href="#k" x="874" y="411"/>
<text class="w" x="827" y="392">OFF</text><text class="w" x="827" y="398">AUTO</text><text class="w" x="827" y="404">HIGH</text>
<text class="w" x="922" y="392">OFF</text><text class="w" x="922" y="398">AUTO</text><text class="w" x="922" y="404">HIGH</text>
<text class="w" x="874" y="398">CLOSE</text><text class="w" x="895" y="407">AUTO</text><text class="w" x="874" y="426">OPEN</text>
<rect x="784" y="414" width="18" height="22" fill="#4b555c" stroke="#eee" stroke-width="1.5"/><text class="w" x="793" y="421">WING</text><text class="w" x="793" y="427">ANTI</text><text class="w" x="793" y="433">ICE</text>
<rect x="948" y="414" width="18" height="22" fill="#4b555c" stroke="#eee" stroke-width="1.5"/><text class="w" x="957" y="421">WING</text><text class="w" x="957" y="427">ANTI</text><text class="w" x="957" y="433">ICE</text>
<rect class="a" x="820" y="418" width="33" height="16"/><text class="o" x="836" y="428">PACK</text>
<rect class="a" x="820" y="436" width="33" height="17"/><text class="o" x="836" y="443">WING BODY</text><text class="o" x="836" y="449">OVERHEAT</text>
<rect class="a" x="820" y="456" width="33" height="16"/><text class="o" x="836" y="463">BLEED</text><text class="o" x="836" y="469">TRIP OFF</text>
<rect class="a" x="898" y="418" width="34" height="16"/><text class="o" x="915" y="428">PACK</text>
<rect class="a" x="898" y="436" width="34" height="17"/><text class="o" x="915" y="443">WING BODY</text><text class="o" x="915" y="449">OVERHEAT</text>
<rect class="a" x="898" y="456" width="34" height="16"/><text class="o" x="915" y="463">BLEED</text><text class="o" x="915" y="469">TRIP OFF</text>
<text class="m" x="874" y="447">TRIP</text><use href="#k" x="874" y="461"/><text class="m" x="874" y="479">RESET</text>
<use href="#k" x="808" y="496"/><use href="#k" x="861" y="496"/><use href="#k" x="942" y="496"/>
<text class="w" x="826" y="493">OFF</text><text class="w" x="826" y="503">ON</text><text class="w" x="924" y="493">OFF</text><text class="w" x="924" y="503">ON</text>
<text class="m" x="808" y="512">1</text><text class="m" x="861" y="512">APU</text><text class="m" x="942" y="512">2</text>
<line class="ln" x1="797" y1="517" x2="860" y2="517" stroke-width="1"/><line class="ln" x1="888" y1="517" x2="955" y2="517" stroke-width="1"/>
<text class="m" x="874" y="520">BLEED</text>
<rect class="a" x="805" y="526" width="33" height="16"/><text class="o" x="821" y="533">AUTO</text><text class="o" x="821" y="539">FAIL</text>
<rect class="a" x="842" y="526" width="33" height="16"/><text class="o" x="858" y="533">OFF SCHED</text><text class="o" x="858" y="539">DESCENT</text>
<rect class="a" x="878" y="526" width="33" height="16"/><text class="g" x="894" y="536">ALTN</text>
<rect class="a" x="913" y="526" width="34" height="16"/><text class="g" x="930" y="536">MANUAL</text>

<!-- ===== PRESSURIZATION ===== -->
<rect class="p" x="780.5" y="572.5" width="192" height="257"/>
<line x1="885" y1="572" x2="885" y2="760" stroke="#ccc"/>
<line x1="885" y1="696" x2="973" y2="696" stroke="#ccc"/>
<text class="s" x="832" y="586">AUTO</text>
<rect x="806" y="592" width="52" height="17" fill="none" stroke="#6f797f"/>
<text class="w" x="832" y="621">FLT ALT</text><use href="#dt" x="832" y="647"/>
<rect x="806" y="686" width="52" height="16" fill="none" stroke="#6f797f"/>
<text class="w" x="832" y="715">LAND ALT</text><use href="#dt" x="832" y="741"/>
<text class="s" x="925" y="586">MANUAL</text>
<circle cx="925" cy="619" r="20" fill="#000" stroke="#888"/>
<path d="M905 619 A20 20 0 0 0 945 619 Z" fill="#2a2f33"/>
<circle cx="925" cy="619" r="17" class="tk" stroke-width="3" stroke-dasharray="0.8 5" />
<text class="w" x="954" y="606">V</text><text class="w" x="954" y="612">A</text><text class="w" x="954" y="618">L</text><text class="w" x="954" y="624">V</text><text class="w" x="954" y="630">E</text>
<use href="#k" x="924" y="676"/>
<text class="w" x="909" y="664">C</text><text class="w" x="909" y="670">L</text><text class="w" x="909" y="676">O</text><text class="w" x="909" y="682">S</text><text class="w" x="909" y="688">E</text>
<text class="w" x="941" y="667">O</text><text class="w" x="941" y="673">P</text><text class="w" x="941" y="679">E</text><text class="w" x="941" y="685">N</text>
<text class="s" x="925" y="720">ALT</text><text class="s" x="912" y="726">AUTO</text><text class="s" x="937" y="725">MAN</text>
<g stroke="#eee" stroke-width="1.2"><line x1="925" y1="723" x2="925" y2="738"/><line x1="914" y1="728" x2="923" y2="739"/><line x1="936" y1="728" x2="927" y2="739"/></g>
<use href="#dt" x="925" y="741"/>
<rect x="791" y="799" width="170" height="22" fill="#000"/>
<line x1="806" y1="807" x2="955" y2="807" stroke="#777" stroke-width="0.6"/>
<line x1="807" y1="802" x2="807" y2="818" stroke="#888" stroke-width="0.6"/>
<text class="w" x="798" y="806" style="font-size:3px">CAB ALT</text><text class="w" x="798" y="815" style="font-size:3px">FLT ALT</text>
<text class="w" x="821" y="806" style="font-size:3px">LAND ALT</text><text class="w" x="852" y="806" style="font-size:3px">2000</text><text class="w" x="881" y="806" style="font-size:3px">4000</text><text class="w" x="912" y="806" style="font-size:3px">6000</text><text class="w" x="941" y="806" style="font-size:3px">8000</text>

<!-- ===== bottom-middle black ===== -->
<rect x="780" y="843" width="122" height="243" fill="#000"/>
<circle cx="842" cy="903" r="44" fill="none" stroke="#fff" stroke-width="4" stroke-dasharray="0.8 3.5"/>
<circle cx="842" cy="903" r="26" fill="none" stroke="#fff" stroke-width="4" stroke-dasharray="0.8 2.5"/>
<circle cx="842" cy="903" r="3" fill="none" stroke="#888"/>
<text class="w" x="842" y="859">0</text><text class="w" x="866" y="868">1</text><text class="w" x="883" y="887">2</text><text class="w" x="885" y="911">3</text><text class="w" x="874" y="932">4</text><text class="w" x="853" y="945">5</text><text class="w" x="829" y="945">6</text><text class="w" x="809" y="930">7</text><text class="w" x="800" y="907">8</text><text class="w" x="805" y="885">9</text><text class="w" x="821" y="866">10</text>
<text class="w" x="842" y="880">0</text><text class="w" x="857" y="892">5</text><text class="w" x="859" y="912">10</text><text class="w" x="838" y="925">20</text><text class="w" x="826" y="912">25</text><text class="w" x="824" y="903">30</text><text class="w" x="827" y="893">35</text><text class="w" x="832" y="884">40</text>
<line x1="782" y1="964" x2="900" y2="964" stroke="#333" stroke-dasharray="1 1"/>
<text class="w" x="820" y="968" style="font-size:3px;fill:#aaa">Dual indic with gauge as presents a Crossed Cabin pressure</text>
<text class="w" x="812" y="972" style="font-size:3px;fill:#aaa">See OpenGL depth for inspection</text>
<circle cx="840" cy="1025" r="38" fill="none" stroke="#bbb" stroke-width="0.7"/>
<circle cx="840" cy="1025" r="20" fill="none" stroke="#fff" stroke-width="4" stroke-dasharray="0.8 2.2"/>
<circle cx="840" cy="1025" r="3" fill="none" stroke="#888"/>
<text class="w" x="840" y="1004">0</text><text class="w" x="855" y="1014">5</text><text class="w" x="858" y="1033">10</text><text class="w" x="835" y="1046">20</text><text class="w" x="845" y="1047">15</text><text class="w" x="821" y="1039">25</text><text class="w" x="819" y="1027">30</text><text class="w" x="821" y="1016">35</text><text class="w" x="826" y="1008">40</text><text class="w" x="832" y="1003">50</text>
<rect x="906" y="843" width="67" height="66" fill="#000"/>
<circle cx="939" cy="878" r="20" fill="none" stroke="#999" stroke-width="0.7"/>
<circle cx="939" cy="878" r="17" fill="none" stroke="#fff" stroke-width="3" stroke-dasharray="0.8 4" />
<circle cx="939" cy="876" r="1.5" fill="none" stroke="#888"/>
<rect x="906" y="910" width="73" height="83" fill="#000"/>
<line x1="906" y1="951" x2="979" y2="951" stroke="#222"/>
<rect x="915" y="923" width="53" height="16" fill="#000" stroke="#222"/>
<text x="962" y="936" style="fill:#fff;font-size:12px;text-anchor:end;font-weight:normal;font-family:'Liberation Mono',monospace">38000</text>
<rect x="915" y="964" width="53" height="16" fill="#000" stroke="#222"/>
<text x="962" y="977" style="fill:#fff;font-size:12px;text-anchor:end;font-weight:normal;font-family:'Liberation Mono',monospace">10</text>
<rect x="915" y="1046" width="64" height="36" fill="#2d2a7a"/>
<text x="947" y="1061" style="fill:#e8c030;font-size:8px;font-weight:normal">Version 1.5</text>
<text x="947" y="1071" style="fill:#e8c030;font-size:4.5px;font-weight:normal">18. december 2013</text>

<!-- ===== RIGHT COLUMN ===== -->
<rect class="p" x="996.5" y="12.5" width="192" height="76"/>
<text class="s" x="1100" y="23">ELT</text>
<rect class="a" x="1034" y="45" width="34" height="16"/><text class="o" x="1051" y="55">ELT</text>
<text class="w" x="1131" y="36">ARM</text><use href="#k" x="1154" y="54"/><text class="w" x="1131" y="74">ON</text>

<rect class="p" x="996.5" y="115.5" width="192" height="89"/>
<text class="m" x="1093" y="126">LE DEVICES</text><text class="w" x="1093" y="133">FLAPS</text>
<g stroke="#fff" stroke-width="0.8">
<!-- left grid: 6 columns, sloped -->
<polygon points="1023,127 1088,141 1088,150 1023,136" fill="#f39a1c"/>
<polygon points="1023,136 1088,150 1088,159 1023,145" fill="#f39a1c" transform="translate(0,0)"/>
<polygon points="1023,136 1077,148 1077,180 1067,178 1067,157 1023,148" fill="#3cb84a"/>
<polygon points="1077,148 1088,150 1088,180 1077,180" fill="#3cb84a"/>
<polygon points="1023,148 1067,157 1067,169 1023,160" fill="#3cb84a"/>
<polygon points="1023,136 1077,148 1077,138 1023,127" fill="#f39a1c"/>
<line x1="1034" y1="129" x2="1034" y2="162"/><line x1="1045" y1="132" x2="1045" y2="165"/><line x1="1056" y1="134" x2="1056" y2="167"/><line x1="1067" y1="136" x2="1067" y2="178"/><line x1="1077" y1="138" x2="1077" y2="180"/>
<line x1="1023" y1="148" x2="1088" y2="162"/>
<polygon points="1163,127 1098,141 1098,150 1163,136" fill="#f39a1c"/>
<polygon points="1163,136 1109,148 1109,180 1119,178 1119,157 1163,148" fill="#3cb84a"/>
<polygon points="1109,148 1098,150 1098,180 1109,180" fill="#3cb84a"/>
<polygon points="1163,148 1119,157 1119,169 1163,160" fill="#3cb84a"/>
<polygon points="1163,136 1109,148 1109,138 1163,127" fill="#f39a1c"/>
<line x1="1152" y1="129" x2="1152" y2="162"/><line x1="1141" y1="132" x2="1141" y2="165"/><line x1="1130" y1="134" x2="1130" y2="167"/><line x1="1119" y1="136" x2="1119" y2="178"/><line x1="1109" y1="138" x2="1109" y2="180"/>
<line x1="1163" y1="148" x2="1098" y2="162"/>
</g>
<path d="M1024 165 V180 H1032 M1068 180 H1075 V170 M1162 165 V180 H1154 M1118 180 H1111 V170" fill="none" stroke="#eee"/>
<text class="w" x="1050" y="183">SLATS</text><text class="w" x="1136" y="183">SLATS</text>
<text class="w" x="1012" y="130">TRANSIT</text><text class="w" x="1015" y="140">EXT</text><text class="w" x="1015" y="149">FULL</text><text class="w" x="1015" y="154">EXT</text>
<text class="w" x="1176" y="130">TRANSIT</text><text class="w" x="1173" y="140">EXT</text><text class="w" x="1175" y="149">FULL</text><text class="w" x="1175" y="154">EXT</text>
<circle cx="1092" cy="188" r="5" fill="#000" stroke="#ddd"/><text class="w" x="1092" y="200">TEST</text>

<rect class="p" x="996.5" y="230.5" width="192" height="138"/>
<line x1="996" y1="307" x2="1189" y2="307" stroke="#6f797f"/>
<rect x="1006" y="233" width="172" height="42" rx="4" fill="#000"/>
<line x1="1118" y1="237" x2="1118" y2="271" stroke="#ddd"/>
<text class="m" x="1047" y="249">FLIGHT  RECORDER</text>
<text class="m" x="1153" y="240">MACH</text><text class="m" x="1153" y="249">AIRSPEED</text><text class="m" x="1153" y="258">WARNING</text><text class="w" x="1153" y="264">TEST</text>
<text class="w" x="1019" y="271">TEST</text><text class="w" x="1057" y="271">NORMAL</text><text class="w" x="1132" y="271">NO 1</text><text class="w" x="1163" y="271">NO 2</text>
<use href="#k" x="1042" y="289"/>
<rect class="a" x="1078" y="280" width="33" height="17"/><text class="o" x="1094" y="290">OFF</text>
<use href="#kb" x="1132" y="289"/><use href="#kb" x="1163" y="289"/>
<rect x="1018" y="318" width="148" height="26" rx="3" fill="#000"/>
<text class="m" x="1092" y="328">STALL WARNING TEST</text><text class="w" x="1058" y="338">NO 1</text><text class="w" x="1121" y="338">NO 2</text>
<use href="#kb" x="1058" y="356"/><use href="#kb" x="1121" y="356"/>

<rect class="p" x="996.5" y="395.5" width="192" height="153"/>
<text class="m" x="1092" y="407">IRS DISPLAY</text>
<rect x="1020" y="408" width="147" height="26" fill="#000" stroke="#444"/>
<text x="1025" y="429" style="fill:#f39a1c;font-size:17px;font-weight:normal;text-anchor:start;font-family:'Liberation Sans Narrow','Liberation Sans',sans-serif">N<tspan style="font-size:12px">55.37.08.</tspan>  E<tspan style="font-size:12px">12.39.36.</tspan></text>
<text class="w" x="1042" y="448">┌─ DSPL SEL ─┐</text>
<text class="w" x="1028" y="455">PPDS</text><text class="w" x="1043" y="454">WIND</text><text class="w" x="1064" y="458">HDG/STS</text><text class="w" x="1020" y="465">TK/GS</text><text class="w" x="1020" y="471">TEST</text>
<g stroke="#eee" stroke-width="1"><line x1="1042" y1="462" x2="1042" y2="470"/><line x1="1035" y1="463" x2="1039" y2="470"/><line x1="1049" y1="463" x2="1045" y2="470"/><line x1="1029" y1="473" x2="1037" y2="473"/></g>
<use href="#rs" x="1042" y="474"/>
<text class="w" x="1042" y="505">┌─ SYS DSPL ─┐</text>
<text class="w" x="1035" y="511">L</text><text class="w" x="1050" y="511">R</text>
<g stroke="#eee" stroke-width="1"><line x1="1036" y1="513" x2="1040" y2="520"/><line x1="1049" y1="513" x2="1045" y2="520"/></g>
<use href="#rs" x="1042" y="524"/>
<rect x="1103" y="454" width="62" height="73" fill="#000" stroke="#aaa"/>
<g stroke="#333" stroke-width="0.6">
<line x1="1124" y1="456" x2="1124" y2="525"/><line x1="1144" y1="456" x2="1144" y2="525"/>
<line x1="1105" y1="472" x2="1163" y2="472"/><line x1="1105" y1="490" x2="1163" y2="490"/><line x1="1105" y1="508" x2="1163" y2="508"/>
</g>
<text class="w" x="1114" y="467">1</text><text class="w" x="1134" y="464">N</text><text class="w" x="1134" y="469">2</text><text class="w" x="1154" y="467">3</text>
<text class="w" x="1114" y="482">W</text><text class="w" x="1114" y="487">4</text><text class="w" x="1134" y="482">H</text><text class="w" x="1134" y="487">5</text><text class="w" x="1154" y="482">E</text><text class="w" x="1154" y="487">6</text>
<text class="w" x="1114" y="503">7</text><text class="w" x="1134" y="500">S</text><text class="w" x="1134" y="505">8</text><text class="w" x="1154" y="503">9</text>
<text class="w" x="1114" y="521">ENT</text><text class="w" x="1134" y="523">0</text><text class="w" x="1154" y="521">CLR</text>

<rect class="p" x="996.5" y="574.5" width="192" height="128"/>
<rect class="a" x="1075" y="586" width="33" height="16"/><text class="o" x="1091" y="596">GPS</text>
<rect class="a" x="1009" y="614" width="34" height="16"/><text class="w" x="1026" y="624">ALIGN</text>
<rect class="a" x="1045" y="614" width="33" height="16"/><text class="o" x="1061" y="624">ON DC</text>
<rect class="a" x="1105" y="614" width="33" height="16"/><text class="w" x="1121" y="624">ALIGN</text>
<rect class="a" x="1141" y="614" width="33" height="16"/><text class="o" x="1157" y="624">ON DC</text>
<rect class="a" x="1009" y="634" width="34" height="16"/><text class="o" x="1026" y="644">FAULT</text>
<rect class="a" x="1045" y="634" width="33" height="16"/><text class="o" x="1061" y="644">DC FAIL</text>
<rect class="a" x="1105" y="634" width="33" height="16"/><text class="o" x="1121" y="644">FAULT</text>
<rect class="a" x="1141" y="634" width="33" height="16"/><text class="o" x="1157" y="644">DC FAIL</text>
<text class="w" x="1030" y="658">ALIGN</text><text class="w" x="1055" y="658">NAV</text><text class="w" x="1025" y="665">OFF</text><text class="w" x="1066" y="665">ATT</text>
<text class="w" x="1126" y="658">ALIGN</text><text class="w" x="1151" y="658">NAV</text><text class="w" x="1121" y="665">OFF</text><text class="w" x="1162" y="665">ATT</text>
<g stroke="#eee" stroke-width="1.2"><line x1="1031" y1="667" x2="1041" y2="678"/><line x1="1039" y1="662" x2="1043" y2="676"/><line x1="1050" y1="662" x2="1046" y2="676"/><line x1="1058" y1="667" x2="1048" y2="678"/>
<line x1="1127" y1="667" x2="1137" y2="678"/><line x1="1135" y1="662" x2="1139" y2="676"/><line x1="1146" y1="662" x2="1142" y2="676"/><line x1="1154" y1="667" x2="1144" y2="678"/></g>
<use href="#rs" x="1044" y="681"/><use href="#rs" x="1140" y="681"/>
<text class="m" x="1073" y="697">L</text><text class="m" x="1092" y="697">IRS</text><text class="m" x="1110" y="697">R</text>

<rect class="p" x="996.5" y="729.5" width="192" height="92"/>
<line x1="996" y1="771" x2="1189" y2="771" stroke="#6f797f"/>
<text class="m" x="1092" y="740">ENGINE</text><text class="w" x="1044" y="744">1</text><text class="w" x="1140" y="744">2</text>
<rect class="a" x="1028" y="749" width="33" height="16"/><text class="o" x="1044" y="759">REVERSER</text>
<rect class="a" x="1124" y="749" width="33" height="16"/><text class="o" x="1140" y="759">REVERSER</text>
<text class="w" x="1072" y="778">EEC</text><text class="w" x="1113" y="778">EEC</text>
<rect class="a" x="1055" y="782" width="33" height="34"/><line x1="1055" y1="799" x2="1088" y2="799" stroke="#333"/>
<circle cx="1072" cy="790" r="5" fill="none" stroke="#eee"/><text class="w" x="1072" y="792">ON</text><text class="o" x="1072" y="810">ALTN</text>
<rect class="a" x="1096" y="782" width="33" height="34"/><line x1="1096" y1="799" x2="1129" y2="799" stroke="#333"/>
<circle cx="1113" cy="790" r="5" fill="none" stroke="#eee"/><text class="w" x="1113" y="792">ON</text><text class="o" x="1113" y="810">ALTN</text>
<rect class="a" x="1015" y="792" width="33" height="16"/><text class="o" x="1031" y="799">ENGINE</text><text class="o" x="1031" y="805">CONTROL</text>
<rect class="a" x="1136" y="792" width="33" height="16"/><text class="o" x="1152" y="799">ENGINE</text><text class="o" x="1152" y="805">CONTROL</text>

<rect class="p" x="996.5" y="847.5" width="192" height="99"/>
<text class="h" x="1053" y="861">CREW</text><text class="h" x="1053" y="870">OXYGEN</text>
<circle cx="1053" cy="904" r="32" class="blk"/>
<circle cx="1053" cy="904" r="28" class="tk" stroke-width="4" stroke-dasharray="0.8 4"/>
<circle cx="1053" cy="900" r="13" fill="none" stroke="#fff" stroke-width="1.2"/>
<text class="w" x="1053" y="886">10</text><text class="w" x="1036" y="893">5</text><text class="w" x="1070" y="893">15</text><text class="w" x="1037" y="913">0</text><text class="w" x="1070" y="913">20</text>
<text class="w" x="1053" y="922">OXY PRESS</text><text class="w" x="1053" y="928">PSI X 100</text>
<text class="m" x="1139" y="860">PASS  OXYGEN</text><text class="w" x="1123" y="876">NORMAL</text>
<use href="#k" x="1153" y="894"/><text class="w" x="1130" y="914">ON</text>
<rect class="a" x="1102" y="923" width="34" height="17"/><text class="o" x="1119" y="930">PASS OXY</text><text class="o" x="1119" y="936">ON</text>

<rect x="995" y="959" width="102" height="88" rx="5" fill="#000"/>
<rect x="1007" y="970" width="77" height="66" rx="4" fill="none" stroke="#444"/>
<text class="m" x="1046" y="979">SERVICE</text><text class="m" x="1046" y="988">INTERPHONE</text><text class="w" x="1046" y="995">OFF</text>
<circle cx="1046" cy="1011" r="7.5" fill="#777" stroke="#ccc"/><circle cx="1046" cy="1011" r="2" fill="none" stroke="#222"/>
<text class="w" x="1046" y="1031">ON</text>
<rect class="p" x="1110.5" y="967.5" width="76" height="66"/>
<text class="m" x="1149" y="977">DOME WHITE</text><text class="w" x="1149" y="993">DIM</text>
<use href="#k" x="1149" y="1009"/><text class="w" x="1170" y="1011">OFF</text><text class="w" x="1149" y="1028">BRIGHT</text>

<rect x="997" y="1048" width="203" height="38" fill="#000"/>
<line x1="1018" y1="1066" x2="1188" y2="1066" stroke="#777" stroke-width="0.6"/>
<line x1="1035" y1="1059" x2="1035" y2="1075" stroke="#888" stroke-width="0.6"/>
<text class="w" x="1026" y="1064" style="font-size:3px">CAB ALT</text><text class="w" x="1026" y="1074" style="font-size:3px">FLT ALT</text>
<text class="w" x="1050" y="1064" style="font-size:3px">LAND ALT</text><text class="w" x="1079" y="1064" style="font-size:3px">2000</text><text class="w" x="1109" y="1064" style="font-size:3px">4000</text><text class="w" x="1139" y="1064" style="font-size:3px">6000</text><text class="w" x="1168" y="1064" style="font-size:3px">8000</text>

<!-- ===== LIGHTING PANEL ===== -->
<polygon points="12.5,882.5 762.5,882.5 762.5,925 612,980 163,980 12.5,930" fill="none" stroke="#6f797f"/>
<text class="w" x="46" y="894">E</text><text class="w" x="46" y="900">X</text><text class="w" x="46" y="906">T</text><text class="w" x="46" y="912">E</text><text class="w" x="46" y="918">N</text><text class="w" x="46" y="924">D</text>
<text class="s" x="105" y="895">LANDING</text>
<text class="w" x="73" y="909">OFF</text><text class="w" x="133" y="909">OFF</text>
<use href="#k" x="59" y="920"/><use href="#k" x="88" y="920"/><use href="#k" x="120" y="920"/><use href="#k" x="150" y="920"/>
<text class="w" x="59" y="936">L</text><text class="w" x="73" y="936">ON</text><text class="w" x="88" y="936">R</text><text class="w" x="74" y="941">RETRACTABLE</text>
<text class="w" x="120" y="936">L</text><text class="w" x="133" y="936">ON</text><text class="w" x="150" y="936">R</text><text class="w" x="134" y="941">FIXED</text>
<text class="s" x="206" y="892">RUNWAY</text><text class="s" x="206" y="899">TURNOFF</text><text class="w" x="206" y="908">OFF</text>
<use href="#k" x="191" y="920"/><use href="#k" x="221" y="920"/>
<text class="w" x="191" y="936">L</text><text class="w" x="206" y="936">ON</text><text class="w" x="221" y="936">R</text><text class="w" x="206" y="941">RETRACTABLE</text>
<text class="s" x="255" y="900">TAXI</text><text class="w" x="242" y="908">OFF</text><text class="w" x="242" y="936">ON</text><use href="#k" x="255" y="920"/>
<line class="ln" x1="275" y1="889" x2="275" y2="974"/>
<text class="m" x="305" y="896">APU</text><text class="w" x="293" y="920">OFF</text><use href="#k" x="295" y="934"/><text class="w" x="311" y="936">ON</text><text class="w" x="293" y="952">START</text>
<line class="ln" x1="335" y1="889" x2="335" y2="974"/>
<text class="s" x="432" y="895">ENGINE START</text>
<g stroke="#eee" stroke-width="1.2"><line x1="358" y1="911" x2="364" y2="923"/><line x1="364" y1="906" x2="365" y2="922"/><line x1="372" y1="909" x2="367" y2="922"/><line x1="380" y1="915" x2="369" y2="924"/>
<line x1="492" y1="911" x2="498" y2="923"/><line x1="498" y1="906" x2="499" y2="922"/><line x1="506" y1="909" x2="501" y2="922"/><line x1="514" y1="915" x2="503" y2="924"/></g>
<use href="#rs" x="365" y="927"/><use href="#rs" x="500" y="927"/>
<text class="w" x="353" y="909">GND</text><text class="w" x="365" y="906">OFF</text><text class="w" x="379" y="909">CONT</text><text class="w" x="388" y="915">FLT</text>
<text class="w" x="487" y="909">GND</text><text class="w" x="499" y="906">OFF</text><text class="w" x="513" y="909">CONT</text><text class="w" x="522" y="915">FLT</text>
<text class="w" x="432" y="910">BOTH</text><use href="#k" x="432" y="923"/><text class="w" x="412" y="925">ING L</text><text class="w" x="452" y="925">ING R</text>
<line class="ln" x1="532" y1="889" x2="532" y2="974"/>
<text class="s" x="550" y="895">LOGO</text><text class="s" x="587" y="895">STROBE</text><text class="s" x="625" y="895">POSITION</text><text class="s" x="663" y="895">ANTI</text><text class="s" x="663" y="901">COLLISION</text><text class="s" x="692" y="895">WING</text><text class="s" x="723" y="895">WHEEL</text><text class="s" x="723" y="901">WELL</text>
<g><text class="w" x="550" y="908">OFF</text><text class="w" x="587" y="908">OFF</text><text class="w" x="625" y="908">OFF</text><text class="w" x="663" y="908">OFF</text><text class="w" x="692" y="908">OFF</text><text class="w" x="723" y="908">OFF</text>
<use href="#k" x="550" y="921"/><use href="#k" x="587" y="921"/><use href="#k" x="625" y="921"/><use href="#k" x="663" y="921"/><use href="#k" x="692" y="921"/><use href="#k" x="723" y="921"/>
<text class="w" x="550" y="936">ON</text><text class="w" x="587" y="936">ON</text><text class="w" x="625" y="936">ON</text><text class="w" x="663" y="936">ON</text><text class="w" x="692" y="936">ON</text><text class="w" x="723" y="936">ON</text>
<text class="w" x="600" y="914">A</text><text class="w" x="600" y="919">U</text><text class="w" x="600" y="924">T</text><text class="w" x="600" y="929">O</text></g>

<!-- ===== BOTTOM GAUGES ===== -->
<rect x="3" y="993" width="538" height="90" fill="#000"/>
<g stroke="#181818"><line x1="92" y1="993" x2="92" y2="1083"/><line x1="182" y1="993" x2="182" y2="1083"/><line x1="272" y1="993" x2="272" y2="1083"/><line x1="362" y1="993" x2="362" y2="1083"/><line x1="452" y1="993" x2="452" y2="1083"/></g>
<circle cx="48" cy="1038" r="32" fill="none" stroke="#aaa" stroke-width="0.6"/>
<circle cx="48" cy="1038" r="28" class="tk" stroke-width="5" stroke-dasharray="0.6 1.4"/>
<text class="w" x="48" y="1015">0</text><text class="w" x="35" y="1026">-20</text><text class="w" x="61" y="1026">+20</text><text class="w" x="48" y="1026">FUEL</text><text class="w" x="48" y="1031">TEMP</text><text class="w" x="30" y="1040">-40</text><text class="w" x="66" y="1040">+40</text><text class="w" x="36" y="1054">°C</text>
<circle cx="137" cy="1038" r="32" fill="none" stroke="#aaa" stroke-width="0.6"/>
<circle cx="137" cy="1038" r="28" class="tk" stroke-width="5" stroke-dasharray="0.6 1.4"/>
<text class="w" x="137" y="1017">10</text><text class="w" x="140" y="1024">EGT</text><text class="w" x="121" y="1028">8</text><text class="w" x="118" y="1043">6</text><text class="w" x="125" y="1056">4</text><text class="w" x="142" y="1058">2</text><text class="w" x="153" y="1050">0</text>
<circle cx="227" cy="1038" r="27" fill="none" stroke="#fff" stroke-width="4" stroke-dasharray="0.8 3"/>
<text class="w" x="227" y="1030">CABIN CLIMB</text><text class="w" x="227" y="1047" style="font-size:3.5px">1000 FT/MIN</text>
<text class="w" x="201" y="1030">UP</text><text class="w" x="199" y="1040">0</text><text class="w" x="201" y="1050">DN</text><text class="w" x="255" y="1040">4</text><text class="w" x="218" y="1014">1</text><text class="w" x="237" y="1014">2</text><text class="w" x="218" y="1066">1</text><text class="w" x="237" y="1066">2</text>
<circle cx="316" cy="1038" r="32" fill="none" stroke="#aaa" stroke-width="0.6"/>
<circle cx="316" cy="1038" r="28" class="tk" stroke-width="5" stroke-dasharray="0.6 1.4"/>
<text class="w" x="308" y="1024">40</text><text class="w" x="324" y="1024">60</text><text class="w" x="316" y="1030">TEMP</text><text class="w" x="298" y="1032">20</text><text class="w" x="334" y="1032">80</text><text class="w" x="298" y="1046">0</text><text class="w" x="334" y="1046">100</text><text class="w" x="308" y="1055">°C</text>
<circle cx="406" cy="1038" r="32" fill="none" stroke="#ccc" stroke-width="0.8"/>
<circle cx="406" cy="1038" r="28" class="tk" stroke-width="4" stroke-dasharray="0.8 5"/>
<circle cx="406" cy="1033" r="14" fill="none" stroke="#fff" stroke-width="1.2"/>
<text class="w" x="406" y="1016">10</text><text class="w" x="391" y="1022">5</text><text class="w" x="421" y="1022">15</text><text class="w" x="392" y="1045">0</text><text class="w" x="421" y="1045">20</text>
<text class="w" x="406" y="1054">OXY PRESS</text><text class="w" x="406" y="1060">PSI X 100</text>
<circle cx="495" cy="1038" r="28" class="tk" stroke-width="4" stroke-dasharray="1 5"/>
<circle cx="495" cy="1038" r="7" fill="none" stroke="#555" stroke-width="2"/>
<text class="w" x="485" y="1025">60</text><text class="w" x="503" y="1025">80</text><text class="w" x="478" y="1040">40</text><text class="w" x="487" y="1055">20</text><text class="w" x="503" y="1055">0</text><text class="w" x="515" y="1036">DUCT</text><text class="w" x="515" y="1042">PRESS</text>
<rect x="542.5" y="993.5" width="104" height="66" fill="none" stroke="#6f797f"/>
<rect class="a" x="555" y="1007" width="33" height="16"/><text class="g" x="571" y="1014">LEFT</text><text class="g" x="571" y="1020">GEAR</text>
<rect class="a" x="601" y="1007" width="34" height="16"/><text class="g" x="618" y="1014">RIGHT</text><text class="g" x="618" y="1020">GEAR</text>
<rect class="a" x="578" y="1029" width="34" height="17"/><text class="g" x="595" y="1036">NOSE</text><text class="g" x="595" y="1042">GEAR</text>
<rect x="648.5" y="993.5" width="42" height="66" fill="none" stroke="#6f797f"/>
<rect class="a" x="661" y="1006" width="16" height="34"/>
<text class="o" x="669" y="1023" transform="rotate(90 669 1023)">PSEU</text>
</svg>
</body></html>
